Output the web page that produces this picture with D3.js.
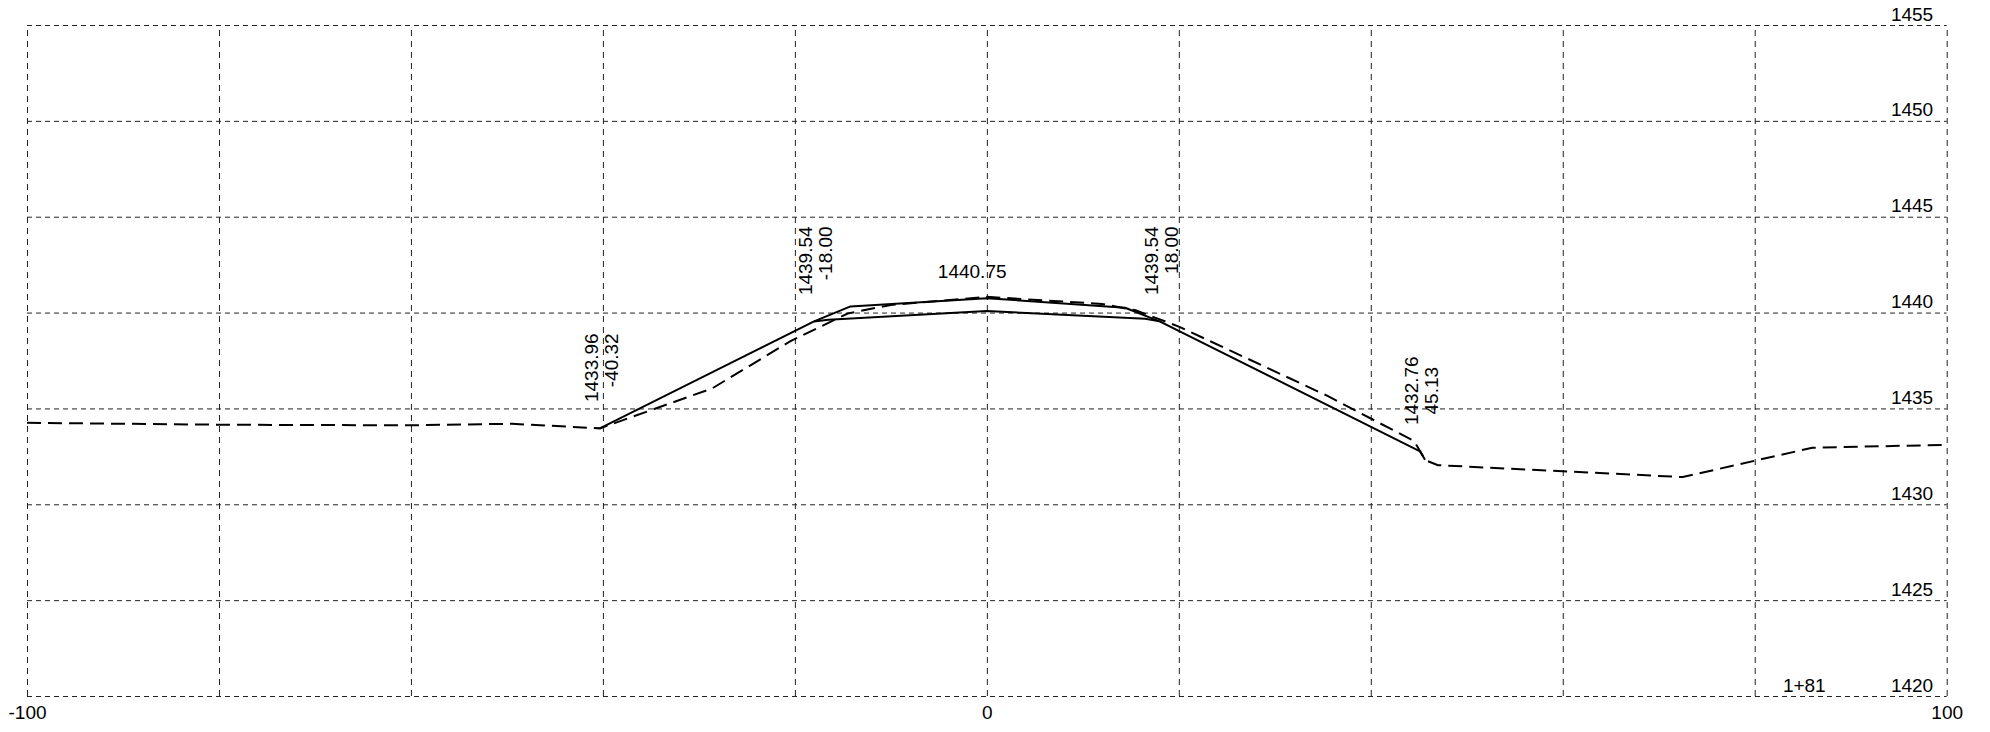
<!DOCTYPE html>
<html><head><meta charset="utf-8">
<script src="https://cdn.jsdelivr.net/npm/d3@7"></script>
<style>
body{margin:0;background:#fff;}
svg{display:block;font-family:"Liberation Sans",Arial,sans-serif;}
</style></head><body>
<svg id="c" width="1990" height="732"></svg>
<script>
// ---- data ----
const xGrid = [-100,-80,-60,-40,-20,0,20,40,60,80,100];
const xTickLabels = [-100,0,100];
const yGrid = [1420,1425,1430,1435,1440,1445,1450,1455];
const stationLabel = "1+81";

// existing ground (dashed)
const groundX = [-100,-80,-60,-49.5,-40.32,-28.6,-20.5,-14.5,-10,0,12,15.5,20,35.5,44.5,45.7,47,60,72.5,86,100];
const groundY = [1434.25,1434.15,1434.12,1434.2,1433.96,1436.05,1438.5,1439.95,1440.4,1440.82,1440.45,1440.12,1439.27,1435.65,1433.3,1432.3,1432.04,1431.72,1431.42,1432.95,1433.1];

// design surface incl. side slopes (solid)
const designX = [-40.32,-18,-14.2,0,14.4,18,45.13,45.65];
const designY = [1433.96,1439.54,1440.32,1440.75,1440.25,1439.54,1432.76,1432.32];

// subgrade (solid)
const subgradeX = [-18,-16.5,0,16.5,18];
const subgradeY = [1439.54,1439.63,1440.08,1439.68,1439.54];

// annotated points
const pointX = [-40.32,-18,18,45.13];
const pointElev = [1433.96,1439.54,1439.54,1432.76];
const pointOffsetText = ["-40.32","-18.00","18.00","45.13"];
const crownX = [0];
const crownElev = [1440.75];

// ---- layout ----
const L = 27, T = 25, R = 1946.7, B = 696;
const svg = d3.select("#c");
const x = d3.scaleLinear().domain([-100,100]).range([L,R]);
const y = d3.scaleLinear().domain([1420,1455]).range([B,T]);
const FS = 19;
const FF = '"Liberation Sans",Arial,sans-serif';

// vertical grid
const gx = svg.append("g").attr("transform",`translate(0,${B})`)
  .call(d3.axisBottom(x).tickValues(xGrid).tickSize(-(B-T)).tickFormat(""));
gx.select(".domain").remove();
gx.selectAll(".tick line").attr("stroke","#222").attr("stroke-width",1).attr("stroke-dasharray","6,5");

// horizontal grid
const gy = svg.append("g").attr("transform",`translate(${L},0)`)
  .call(d3.axisLeft(y).tickValues(yGrid).tickSize(-(R-L)).tickFormat(""));
gy.select(".domain").remove();
gy.selectAll(".tick line").attr("stroke","#222").attr("stroke-width",1).attr("stroke-dasharray","5,4");

// y labels (inside, right)
const yl = svg.append("g").attr("transform",`translate(${R-13.5},0)`)
  .call(d3.axisLeft(y).tickValues(yGrid).tickSize(0).tickPadding(0).tickFormat(d=>String(d)));
yl.select(".domain").remove();
yl.selectAll("text").attr("dy",null).attr("y",-5).attr("x",0)
  .attr("text-anchor","end").attr("font-size",FS).attr("fill","#000").attr("font-family",FF);

// x labels
const xl = svg.append("g").attr("transform",`translate(0,${B})`)
  .call(d3.axisBottom(x).tickValues(xTickLabels).tickSize(0).tickPadding(0).tickFormat(d=>String(d)));
xl.select(".domain").remove();
xl.selectAll("text").attr("dy",null).attr("y",23)
  .attr("font-size",FS).attr("fill","#000").attr("font-family",FF);

// station label
svg.append("text").attr("x",R-121).attr("y",B-4).attr("text-anchor","end")
  .attr("font-size",FS).text(stationLabel);

// lines
const line = d3.line().x(d=>x(d[0])).y(d=>y(d[1]));
svg.append("path").datum(groundX.map((v,i)=>[v,groundY[i]]))
  .attr("d",line).attr("fill","none").attr("stroke","#000").attr("stroke-width",2)
  .attr("stroke-dasharray","14,7");
svg.append("path").datum(designX.map((v,i)=>[v,designY[i]]))
  .attr("d",line).attr("fill","none").attr("stroke","#000").attr("stroke-width",2)
  .attr("stroke-linejoin","round");
svg.append("path").datum(subgradeX.map((v,i)=>[v,subgradeY[i]]))
  .attr("d",line).attr("fill","none").attr("stroke","#000").attr("stroke-width",2)
  .attr("stroke-linejoin","round");

// vertical point labels
pointX.forEach((px,i)=>{
  const cx = x(px), top = y(pointElev[i]) - 95;
  const t1 = svg.append("text").attr("transform",`translate(${cx-2},${top}) rotate(-90)`)
    .attr("text-anchor","end").attr("font-size",FS).text(pointElev[i].toFixed(2));
  const centered = (i === pointX.length-1);
  if (centered) {
    const w = t1.node().getComputedTextLength();
    svg.append("text").attr("transform",`translate(${cx+18},${top + w/2}) rotate(-90)`)
      .attr("text-anchor","middle").attr("font-size",FS).text(pointOffsetText[i]);
  } else {
    svg.append("text").attr("transform",`translate(${cx+18},${top}) rotate(-90)`)
      .attr("text-anchor","end").attr("font-size",FS).text(pointOffsetText[i]);
  }
});

// crown label
crownX.forEach((cxv,i)=>{
  svg.append("text").attr("x",x(cxv)-49).attr("y",y(crownElev[i])-20)
    .attr("font-size",FS).text(crownElev[i].toFixed(2));
});
</script>
</body></html>
